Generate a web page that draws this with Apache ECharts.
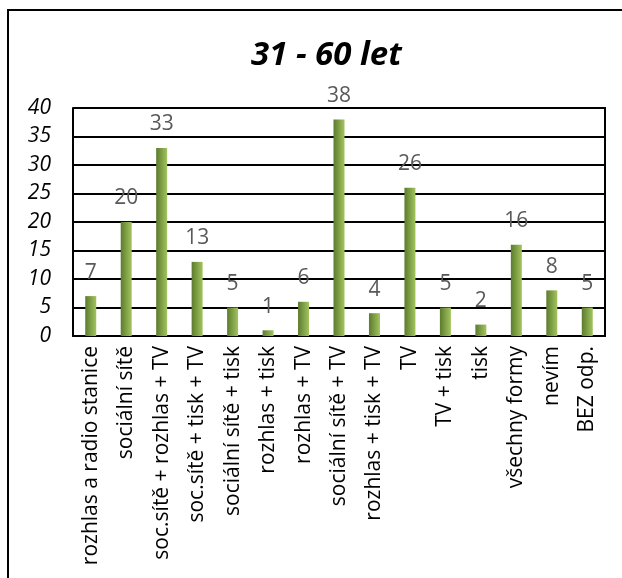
<!DOCTYPE html>
<html>
<head>
<meta charset="utf-8">
<script src="https://cdn.jsdelivr.net/npm/echarts@6/dist/echarts.min.js"></script>
<style>
  html, body { margin: 0; padding: 0; background: #fff; }
  #chart { width: 622px; height: 578px; }
</style>
</head>
<body>
<div id="chart"></div>
<script>
var categories = [
  "rozhlas a radio stanice",
  "sociální sítě",
  "soc.sítě + rozhlas + TV",
  "soc.sítě + tisk + TV",
  "sociální sítě + tisk",
  "rozhlas + tisk",
  "rozhlas + TV",
  "sociální sítě + TV",
  "rozhlas + tisk + TV",
  "TV",
  "TV + tisk",
  "tisk",
  "všechny formy",
  "nevím",
  "BEZ odp."
];
var values = [7, 20, 33, 13, 5, 1, 6, 38, 4, 26, 5, 2, 16, 8, 5];
var yTicks = [0, 5, 10, 15, 20, 25, 30, 35, 40];

var font = "Open Sans, Noto Sans, sans-serif";
var chart = echarts.init(document.getElementById("chart"));
var option = {
  animation: false,
  title: {
    text: "31 - 60 let",
    left: 246,
    top: 34,
    textStyle: {
      fontFamily: font,
      fontSize: 33,
      fontWeight: "bold",
      fontStyle: "italic",
      color: "#000"
    }
  },
  grid: { left: 73, right: 17, top: 108, bottom: 242, containLabel: false },
  xAxis: {
    type: "category",
    data: categories,
    axisTick: { show: false },
    axisLine: { lineStyle: { color: "#000", width: 2 } },
    axisLabel: {
      interval: 0,
      rotate: 90,
      margin: 10,
      fontFamily: font,
      fontSize: 21,
      color: "#000"
    }
  },
  yAxis: {
    type: "value",
    min: yTicks[0],
    max: yTicks[yTicks.length - 1],
    interval: 5,
    axisLine: { show: true, lineStyle: { color: "#000", width: 2 } },
    axisTick: { show: false },
    splitLine: { lineStyle: { color: "#000", width: 2 } },
    axisLabel: {
      margin: 22,
      fontFamily: font,
      fontSize: 21,
      fontStyle: "italic",
      color: "#000"
    }
  },
  series: [{
    type: "bar",
    data: values,
    barWidth: 11,
    itemStyle: {
      color: new echarts.graphic.LinearGradient(0, 0, 1, 0, [
        { offset: 0, color: "#5c7b2e" },
        { offset: 1, color: "#a3c45e" }
      ])
    },
    label: {
      show: true,
      position: "top",
      distance: 13,
      fontFamily: font,
      fontSize: 21,
      color: "#595959"
    }
  }],
  graphic: [{
    type: "rect",
    shape: { x: 8, y: 10, width: 640, height: 600 },
    style: { fill: "none", stroke: "#000", lineWidth: 2 }
  }, {
    type: "line",
    shape: { x1: 605, y1: 107, x2: 605, y2: 337 },
    style: { stroke: "#000", lineWidth: 2 }
  }]
};
chart.setOption(option);
</script>
</body>
</html>
